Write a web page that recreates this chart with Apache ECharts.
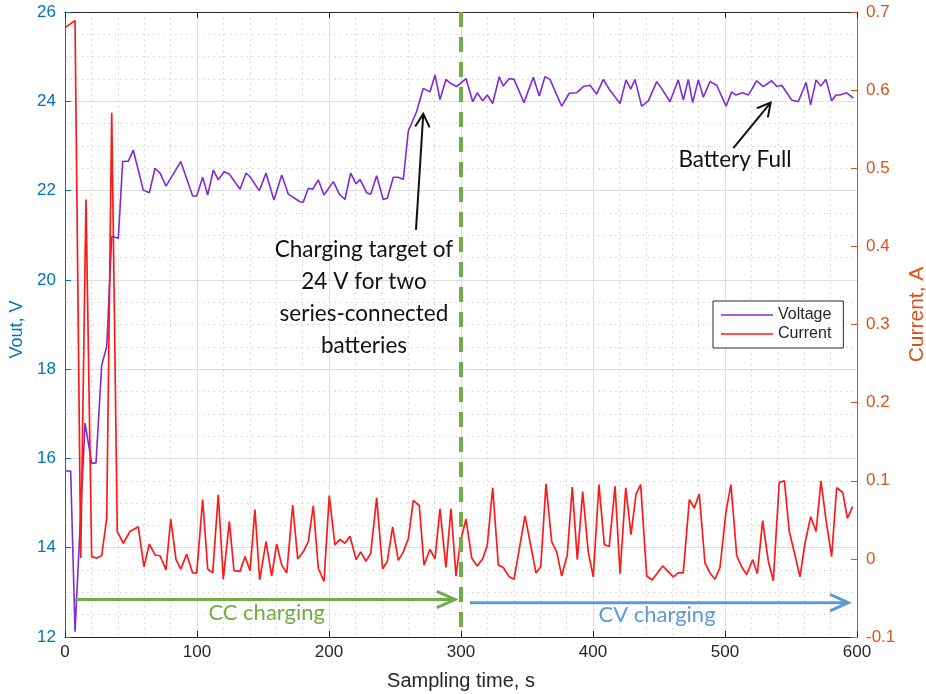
<!DOCTYPE html>
<html>
<head>
<meta charset="utf-8">
<script src="https://cdn.jsdelivr.net/npm/echarts@6/dist/echarts.min.js"></script>
<style>
html,body{margin:0;padding:0;background:#fff;}
#chart{width:926px;height:694px;}
</style>
</head>
<body>
<div id="chart"></div>
<script>
// ---------- DATA ----------
const voltageTime = [0, 4.3, 7.6, 15.2, 20.2, 23.5, 27.8, 31.6, 35.4, 40.4, 43.7, 48, 51.7, 59.3, 63.9, 68.2, 72, 76.5, 87.7, 96.7, 99.8, 104.3, 108.1, 112.4, 116.1, 120.5, 124.5, 132.6, 137.1, 140.2, 147.2, 152.3, 158.3, 164.2, 169.2, 178, 180.5, 184.3, 187.7, 191.9, 196.2, 203.3, 207.8, 212.1, 216.4, 220.5, 223.5, 228.6, 231.6, 236.1, 241.1, 244.2, 248.7, 252.5, 256.3, 260.1, 266.4, 271.4, 276.5, 280.3, 284.1, 288.6, 291.7, 296.7, 303.8, 308.9, 312.3, 316.4, 319.9, 324, 329, 332, 336.6, 340.2, 347.7, 354.8, 359.3, 363.6, 367.4, 376.3, 382, 387.6, 392.7, 397.7, 402.8, 407.8, 412.3, 420.5, 425, 428.6, 431.8, 436.9, 441.9, 448.3, 452.8, 458.3, 464.6, 468.4, 472.2, 475.5, 479.8, 483.6, 488.6, 493.7, 500.8, 505.1, 508.3, 513.4, 517.7, 524, 529, 535.4, 539.2, 543, 550.5, 555.5, 561.4, 564.9, 569, 572.5, 576.5, 580.8, 584.1, 587.1, 592.2, 597.2];
const voltageValues = [15.72, 15.72, 12.12, 16.79, 15.89, 15.90, 18.09, 18.50, 20.97, 20.93, 22.65, 22.66, 22.91, 22.01, 21.95, 22.50, 22.39, 22.10, 22.65, 21.88, 21.88, 22.30, 21.90, 22.46, 22.24, 22.42, 22.37, 22.03, 22.39, 22.31, 22.00, 22.39, 21.79, 22.35, 21.92, 21.75, 21.74, 22.05, 22.03, 22.24, 21.90, 22.20, 21.92, 21.80, 22.39, 22.15, 22.25, 21.95, 21.92, 22.33, 21.80, 21.83, 22.30, 22.30, 22.25, 23.34, 23.77, 24.29, 24.21, 24.59, 24.04, 24.49, 24.41, 24.33, 24.51, 23.99, 24.19, 24.01, 24.14, 23.95, 24.55, 24.34, 24.51, 24.49, 23.97, 24.54, 24.12, 24.55, 24.49, 23.89, 24.18, 24.19, 24.33, 24.36, 24.16, 24.49, 24.27, 23.95, 24.48, 24.27, 24.49, 23.89, 24.01, 24.44, 24.25, 23.99, 24.48, 24.03, 24.49, 23.97, 24.48, 24.09, 24.44, 24.36, 23.89, 24.21, 24.14, 24.19, 24.14, 24.46, 24.33, 24.46, 24.33, 24.36, 24.03, 23.99, 24.42, 23.92, 24.48, 24.34, 24.49, 24.01, 24.14, 24.14, 24.19, 24.07];

const currentTime = [0, 7.6, 11.9, 15.9, 20.2, 24, 27.8, 31.6, 35.4, 39.6, 44.2, 49.2, 55.5, 59.8, 63.9, 68.2, 72, 76.5, 80.1, 84.1, 87.7, 92.2, 96.7, 99.8, 104.3, 108.1, 111.9, 116.1, 119.9, 124.5, 128, 132.6, 136.4, 140.2, 143.9, 147.5, 152.3, 156.6, 160.3, 164.2, 168, 172.5, 176.3, 180.5, 184.3, 188.1, 191.9, 196.2, 200.2, 204.5, 208.3, 212.1, 215.9, 220.5, 224, 228, 231.6, 236.1, 240.6, 244.2, 248.2, 252.5, 256.3, 260.1, 263.9, 268.4, 272, 276.5, 280.3, 284.1, 288.6, 292.4, 296.2, 299.5, 303.8, 308.1, 312.3, 316.4, 319.9, 324, 328.3, 332, 336.6, 340.2, 348.5, 356.8, 360.4, 364.4, 368.7, 372.5, 376.3, 380.5, 384.3, 388.1, 392.2, 396.4, 400.2, 404.5, 408.6, 412.3, 416.7, 420.5, 424.8, 428.8, 432.6, 436.1, 440.7, 444.8, 452.8, 460.8, 464.6, 468.4, 473, 476.7, 480.5, 484.8, 488.6, 492.4, 496.2, 500.8, 504.5, 508.9, 512.6, 516.4, 521, 524.5, 528.5, 532.8, 536.6, 541.1, 545, 548.7, 553, 556.8, 560.6, 564.9, 569, 572.7, 576.5, 580.8, 584.6, 589.2, 592.7, 596.7];
const currentValues = [0.680, 0.689, 0.001, 0.460, 0.003, 0.001, 0.004, 0.052, 0.571, 0.035, 0.020, 0.035, 0.041, -0.010, 0.019, 0.005, 0.004, -0.014, 0.051, -0.001, -0.013, 0.006, -0.018, -0.018, 0.076, -0.013, -0.018, 0.082, -0.026, 0.048, -0.015, -0.016, 0.003, -0.015, 0.063, -0.027, 0.022, -0.022, 0.019, -0.008, -0.018, 0.069, 0.000, 0.009, 0.022, 0.068, -0.012, -0.029, 0.081, 0.018, 0.025, 0.020, 0.029, -0.001, 0.009, -0.003, 0.007, 0.078, -0.013, -0.003, 0.041, -0.002, 0.009, 0.026, 0.075, 0.068, -0.008, 0.012, 0.000, 0.064, -0.011, 0.064, -0.022, 0.022, 0.051, 0.001, -0.009, 0.000, 0.017, 0.091, -0.008, -0.011, -0.023, -0.026, 0.055, -0.018, -0.010, 0.096, 0.022, 0.009, -0.022, 0.005, 0.092, -0.001, 0.086, 0.009, -0.023, 0.095, 0.018, 0.016, 0.093, -0.019, 0.091, 0.031, 0.083, 0.095, -0.022, -0.027, -0.009, -0.023, -0.018, -0.018, 0.076, 0.065, 0.083, -0.005, -0.018, -0.026, -0.011, 0.061, 0.095, 0.004, -0.010, -0.020, -0.001, -0.019, 0.049, -0.003, -0.028, 0.098, 0.100, 0.035, 0.005, -0.023, 0.020, 0.054, 0.035, 0.100, 0.050, 0.003, 0.091, 0.085, 0.052, 0.067];

const seriesNames = ['Voltage', 'Current'];
const xAxisTitle = 'Sampling time, s';
const leftAxisTitle = 'Vout, V';
const rightAxisTitle = 'Current, A';

// annotation anchors in data units (time s, voltage V on left axis)
const phaseBoundary = 300;
const ccArrow = [[7.6, 12.84], [295.5, 12.84]];
const cvArrow = [[306.8, 12.77], [593.4, 12.77]];
const targetArrow = [[265.9, 21.12], [271.4, 23.72]];
const fullArrow = [[506.3, 22.95], [534.6, 23.97]];
const ccLabel = {text: 'CC charging', at: [152.8, 12.54]};
const cvLabel = {text: 'CV charging', at: [448.5, 12.49]};
const targetLabel = {text: 'Charging target of\n24 V for two\nseries-connected\nbatteries', at: [226.5, 19.59]};
const fullLabel = {text: 'Battery Full', at: [507.6, 22.68]};

// ---------- CHART ----------
const zip = (a, b) => a.map((v, i) => [v, b[i]]);
const BLUE = '#0072BD', ORANGE = '#D95319', DARK = '#262626';
const GREEN = '#70AD47', LBLUE = '#5B9BD5';
const FONT = '"Liberation Sans", Arial, sans-serif';
const AFONT = 'Lato, "Open Sans", sans-serif';

function chevron(p1, p2, len, ang) {
  const th = Math.atan2(p2[1] - p1[1], p2[0] - p1[0]);
  const a1 = [p2[0] - len * Math.cos(th - ang), p2[1] - len * Math.sin(th - ang)];
  const a2 = [p2[0] - len * Math.cos(th + ang), p2[1] - len * Math.sin(th + ang)];
  return [a1, p2, a2];
}

function renderAnnotations(params, api) {
  const C = p => api.coord(p);
  const ch = [];
  const top = C([phaseBoundary, 26]), bot = C([phaseBoundary, 12]);
  ch.push({type: 'line', shape: {x1: top[0], y1: top[1], x2: bot[0], y2: bot[1]},
    style: {stroke: GREEN, lineWidth: 4, lineDash: [15, 10]}});
  const arrows = [
    {pts: ccArrow, color: GREEN, w: 3, len: 20, ang: 0.42},
    {pts: cvArrow, color: LBLUE, w: 3, len: 20, ang: 0.42},
    {pts: targetArrow, color: '#111', w: 2, len: 15, ang: 0.5},
    {pts: fullArrow, color: '#111', w: 2, len: 15, ang: 0.5}
  ];
  arrows.forEach(a => {
    const p1 = C(a.pts[0]), p2 = C(a.pts[1]);
    ch.push({type: 'line', shape: {x1: p1[0], y1: p1[1], x2: p2[0], y2: p2[1]},
      style: {stroke: a.color, lineWidth: a.w}});
    ch.push({type: 'polyline', shape: {points: chevron(p1, p2, a.len, a.ang)},
      style: {stroke: a.color, lineWidth: a.w, fill: null, lineJoin: 'miter'}});
  });
  const labels = [
    {l: ccLabel, color: GREEN, size: 22},
    {l: cvLabel, color: LBLUE, size: 22},
    {l: targetLabel, color: '#111', size: 22.5},
    {l: fullLabel, color: '#111', size: 22.5}
  ];
  labels.forEach(o => {
    const p = C(o.l.at);
    ch.push({type: 'text', x: p[0], y: p[1],
      style: {text: o.l.text, fill: o.color, fontSize: o.size, fontFamily: AFONT,
        align: 'center', verticalAlign: 'middle', lineHeight: 32}});
  });
  return {type: 'group', children: ch};
}

const chart = echarts.init(document.getElementById('chart'), null, {renderer: 'canvas'});
chart.setOption({
  animation: false,
  backgroundColor: '#fff',
  grid: {left: 65, right: 69, top: 12, bottom: 57, containLabel: false, outerBoundsMode: 'none'},
  legend: {
    data: seriesNames, orient: 'vertical', left: 713, top: 301,
    icon: 'rect', itemWidth: 52, itemHeight: 1.6, itemGap: 3,
    backgroundColor: '#fff', borderColor: DARK, borderWidth: 1,
    padding: [6, 12, 6, 8],
    textStyle: {fontSize: 16, color: DARK, fontFamily: FONT}
  },
  xAxis: [{
    type: 'value', min: 0, max: 600, interval: 100,
    name: xAxisTitle, nameLocation: 'middle', nameGap: 34,
    nameTextStyle: {fontSize: 20, color: DARK, fontFamily: FONT},
    axisLine: {show: true, onZero: false, lineStyle: {color: DARK, width: 1}},
    axisTick: {show: true, inside: true, length: 6, lineStyle: {color: DARK}},
    axisLabel: {fontSize: 17, color: DARK, fontFamily: FONT, margin: 7},
    splitLine: {show: true, lineStyle: {color: '#DEDEDE', width: 1}},
    minorTick: {show: false, splitNumber: 5},
    minorSplitLine: {show: true, lineStyle: {color: '#D2D2D2', width: 1, type: [1.5, 4]}}
  }, {
    type: 'value', min: 0, max: 600, interval: 100, position: 'top',
    axisLine: {show: true, onZero: false, lineStyle: {color: DARK, width: 1}},
    axisTick: {show: true, inside: true, length: 6, lineStyle: {color: DARK}},
    axisLabel: {show: false}, splitLine: {show: false}
  }],
  yAxis: [{
    type: 'value', min: 12, max: 26, interval: 2, position: 'left',
    name: leftAxisTitle, nameLocation: 'middle', nameGap: 38,
    nameTextStyle: {fontSize: 18, color: BLUE, fontFamily: FONT, padding: [0, 10, 0, 0]},
    axisLine: {show: true, onZero: false, lineStyle: {color: BLUE, width: 1}},
    axisTick: {show: true, inside: true, length: 6, lineStyle: {color: BLUE}},
    axisLabel: {fontSize: 17, color: BLUE, fontFamily: FONT, margin: 9},
    splitLine: {show: true, lineStyle: {color: '#DEDEDE', width: 1}},
    minorTick: {show: false, splitNumber: 4},
    minorSplitLine: {show: true, lineStyle: {color: '#D2D2D2', width: 1, type: [1.5, 4]}}
  }, {
    type: 'value', min: -0.1, max: 0.7, interval: 0.1, position: 'right',
    name: rightAxisTitle, nameLocation: 'middle', nameGap: 50,
    nameTextStyle: {fontSize: 21, color: ORANGE, fontFamily: FONT, padding: [0, 0, 0, 20]},
    axisLine: {show: true, onZero: false, lineStyle: {color: ORANGE, width: 1}},
    axisTick: {show: true, inside: true, length: 6, lineStyle: {color: ORANGE}},
    axisLabel: {fontSize: 17, color: ORANGE, fontFamily: FONT, margin: 9,
      formatter: v => String(Math.round(v * 10) / 10)},
    splitLine: {show: false}
  }],
  series: [{
    name: seriesNames[0], type: 'line', xAxisIndex: 0, yAxisIndex: 0,
    data: zip(voltageTime, voltageValues), symbol: 'none', showSymbol: false,
    lineStyle: {color: '#7E2BD6', width: 1.6}, itemStyle: {color: '#7E2BD6'}, z: 3
  }, {
    name: seriesNames[1], type: 'line', xAxisIndex: 0, yAxisIndex: 1,
    data: zip(currentTime, currentValues), symbol: 'none', showSymbol: false,
    lineStyle: {color: '#FF1A1A', width: 1.7}, itemStyle: {color: '#FF1A1A'}, z: 4
  }, {
    type: 'custom', xAxisIndex: 0, yAxisIndex: 0, clip: false, silent: true, z: 6,
    data: [[phaseBoundary, 20]], renderItem: renderAnnotations
  }]
});
</script>
</body>
</html>
